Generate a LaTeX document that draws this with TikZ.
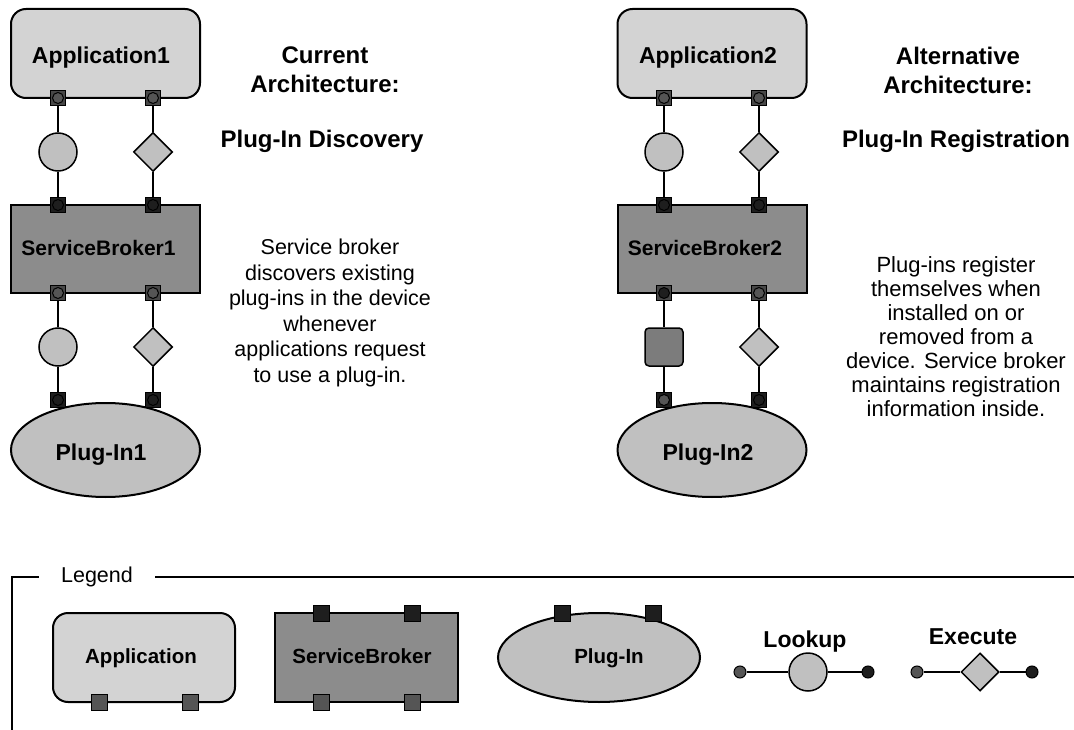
\documentclass[tikz,border=0pt]{standalone}
\usepackage{fontspec}
\setmainfont{Liberation Sans}
\usepackage{xcolor}
\usepackage{tikz}
\usetikzlibrary{shapes}
\definecolor{appgray}{HTML}{D3D3D3}
\definecolor{brkgray}{HTML}{8C8C8C}
\definecolor{plggray}{HTML}{C0C0C0}
\definecolor{reggray}{HTML}{7C7C7C}
\definecolor{portgray}{HTML}{474747}
\definecolor{portblack}{HTML}{1E1E1E}
\definecolor{endgray}{HTML}{555555}
\tikzset{app/.style={rectangle,rounded corners=15pt,draw,fill=appgray,line width=2pt,minimum width=189pt,minimum height=89pt,inner sep=0pt}}
\tikzset{brk/.style={rectangle,draw,fill=brkgray,line width=2pt,minimum width=189pt,minimum height=88pt,inner sep=0pt}}
\tikzset{plg/.style={ellipse,draw,fill=plggray,line width=2pt,minimum width=189pt,minimum height=94pt,inner sep=0pt}}
\tikzset{look/.style={circle,draw,fill=plggray,line width=1.5pt,minimum size=38pt,inner sep=0pt}}
\tikzset{exe/.style={diamond,draw,fill=plggray,line width=1.5pt,minimum size=39pt,inner sep=0pt}}
\tikzset{reg/.style={rectangle,rounded corners=4pt,draw,fill=reggray,line width=1.5pt,minimum size=38pt,inner sep=0pt}}
\tikzset{gport/.style={rectangle,draw,fill=portgray,line width=1pt,minimum size=15pt,inner sep=0pt}}
\tikzset{bport/.style={rectangle,draw,fill=portblack,line width=1pt,minimum size=15pt,inner sep=0pt}}
\tikzset{gendpt/.style={circle,draw,fill=endgray,line width=1pt,minimum size=11pt,inner sep=0pt}}
\tikzset{bendpt/.style={circle,draw,fill=portblack,line width=1pt,minimum size=11pt,inner sep=0pt}}
\tikzset{wire/.style={line width=2pt}}
\tikzset{lbl/.style={anchor=base,inner sep=0pt,font=\fontsize{23}{25}\selectfont\bfseries}}
\tikzset{head/.style={align=center,inner sep=0pt,font=\fontsize{24}{29}\selectfont\bfseries}}
\tikzset{txt/.style={align=center,inner sep=0pt,font=\fontsize{21.5}{25.5}\selectfont}}
\newcommand{\pnode}[4]{\node[#2] (#1)at (#3) {};\node[#4] (#1c)at (#3) {};}

\begin{document}
\begin{tikzpicture}[x=1pt,y=-1pt]
    \useasboundingbox (0,0) rectangle (1074,730);

    \node[app] (a1)at (105.5,53.5) {};
    \node[lbl] (a1t)at (101,64) {Application1};
    \node[brk] (b1)at (105.5,249) {};
    \node[lbl,font=\fontsize{21}{25}\selectfont\bfseries] (b1t)at (98.5,256) {ServiceBroker1};
    \node[plg] (p1)at (105.5,450) {};
    \node[lbl] (p1t)at (101,460) {Plug-In1};
    \node[look] (l1)at (58,152) {};
    \node[exe] (e1)at (153,152) {};
    \node[look] (l2)at (58,347) {};
    \node[exe] (e2)at (153,347) {};
    \pnode{a1l}{gport}{58,98}{gendpt}
    \pnode{a1r}{gport}{153,98}{gendpt}
    \pnode{b1tl}{bport}{58,205}{bendpt}
    \pnode{b1tr}{bport}{153,205}{bendpt}
    \pnode{b1bl}{gport}{58,293}{gendpt}
    \pnode{b1br}{gport}{153,293}{gendpt}
    \pnode{p1l}{bport}{58,400}{bendpt}
    \pnode{p1r}{bport}{153,400}{bendpt}

    \draw [wire] (a1l) to (l1);
    \draw [wire] (l1) to (b1tl);
    \draw [wire] (a1r) to (e1);
    \draw [wire] (e1) to (b1tr);
    \draw [wire] (b1bl) to (l2);
    \draw [wire] (l2) to (p1l);
    \draw [wire] (b1br) to (e2);
    \draw [wire] (e2) to (p1r);

    \node[head] (h1)at (325,70) {Current\\Architecture:};
    \node[lbl,font=\fontsize{24}{29}\selectfont\bfseries] (h1b)at (322,148) {Plug-In Discovery};
    \node[txt] (d1)at (330,313) {Service broker\\discovers existing\\plug-ins in the device\\whenever\\applications request\\to use a plug-in.};

    \node[app] (a2)at (712,53.5) {};
    \node[lbl] (a2t)at (708,64) {Application2};
    \node[brk] (b2)at (712,249) {};
    \node[lbl,font=\fontsize{21}{25}\selectfont\bfseries] (b2t)at (705,256) {ServiceBroker2};
    \node[plg] (p2)at (712,450) {};
    \node[lbl] (p2t)at (708,460) {Plug-In2};
    \node[look] (l3)at (664,152) {};
    \node[exe] (e3)at (759,152) {};
    \node[reg] (r1)at (664,347) {};
    \node[exe] (e4)at (759,347) {};
    \pnode{a2l}{gport}{664,98}{gendpt}
    \pnode{a2r}{gport}{759,98}{gendpt}
    \pnode{b2tl}{bport}{664,205}{bendpt}
    \pnode{b2tr}{bport}{759,205}{bendpt}
    \pnode{b2bl}{gport}{664,293}{bendpt}
    \pnode{b2br}{gport}{759,293}{gendpt}
    \pnode{p2l}{bport}{664,400}{gendpt}
    \pnode{p2r}{bport}{759,400}{bendpt}

    \draw [wire] (a2l) to (l3);
    \draw [wire] (l3) to (b2tl);
    \draw [wire] (a2r) to (e3);
    \draw [wire] (e3) to (b2tr);
    \draw [wire] (b2bl) to (r1);
    \draw [wire] (r1) to (p2l);
    \draw [wire] (b2br) to (e4);
    \draw [wire] (e4) to (p2r);

    \node[head] (h2)at (958,70) {Alternative\\Architecture:};
    \node[lbl,font=\fontsize{24}{29}\selectfont\bfseries] (h2b)at (956,148) {Plug-In Registration};
    \node[txt,font=\fontsize{22}{24}\selectfont] (d2)at (956,337) {Plug-ins register\\themselves when\\installed on or\\removed from a\\device. Service broker\\maintains registration\\information inside.};

    \node[txt,inner xsep=22pt] (leg)at (97,577) {Legend};
    \coordinate (fb) at (12,730);
    \coordinate (fr) at (1074,577);
    \draw [line width=1.5pt] (leg.west) -| (fb);
    \draw [line width=1.5pt] (leg.east) -- (leg.east -| fr);

    \node[app,minimum width=182pt] (la)at (144,657.5) {};
    \node[lbl,font=\fontsize{20.5}{24}\selectfont\bfseries] (lat)at (141,663) {Application};
    \node[gport,fill=endgray,minimum size=16pt] (lap1)at (99,702) {};
    \node[gport,fill=endgray,minimum size=16pt] (lap2)at (190,702) {};

    \node[brk,minimum width=183pt,minimum height=89pt] (lb)at (366.5,657.5) {};
    \node[lbl,font=\fontsize{20.5}{24}\selectfont\bfseries] (lbt)at (362,663) {ServiceBroker};
    \node[bport,minimum size=16pt] (lbp1)at (321.5,613) {};
    \node[bport,minimum size=16pt] (lbp2)at (412.5,613) {};
    \node[gport,fill=endgray,minimum size=16pt] (lbp3)at (321.5,702) {};
    \node[gport,fill=endgray,minimum size=16pt] (lbp4)at (412.5,702) {};

    \node[plg,minimum width=202pt,minimum height=89pt] (lp)at (599,657.5) {};
    \node[lbl,font=\fontsize{20.5}{24}\selectfont\bfseries] (lpt)at (609,663) {Plug-In};
    \node[bport,minimum size=16pt] (lpp1)at (562,613) {};
    \node[bport,minimum size=16pt] (lpp2)at (653,613) {};

    \node[lbl] (llt)at (805,647) {Lookup};
    \node[gendpt,minimum size=12pt] (ll1)at (740,672) {};
    \node[look] (ll)at (808,672) {};
    \node[bendpt,minimum size=12pt] (ll2)at (868,672) {};
    \draw [line width=1.5pt] (ll1) to (ll);
    \draw [line width=1.5pt] (ll) to (ll2);

    \node[lbl] (let)at (973,644) {Execute};
    \node[gendpt,minimum size=12pt] (le1)at (917,672) {};
    \node[exe,minimum size=38pt] (le)at (980,672) {};
    \node[bendpt,minimum size=12pt] (le2)at (1032,672) {};
    \draw [line width=1.5pt] (le1) to (le);
    \draw [line width=1.5pt] (le) to (le2);
\end{tikzpicture}
\end{document}
